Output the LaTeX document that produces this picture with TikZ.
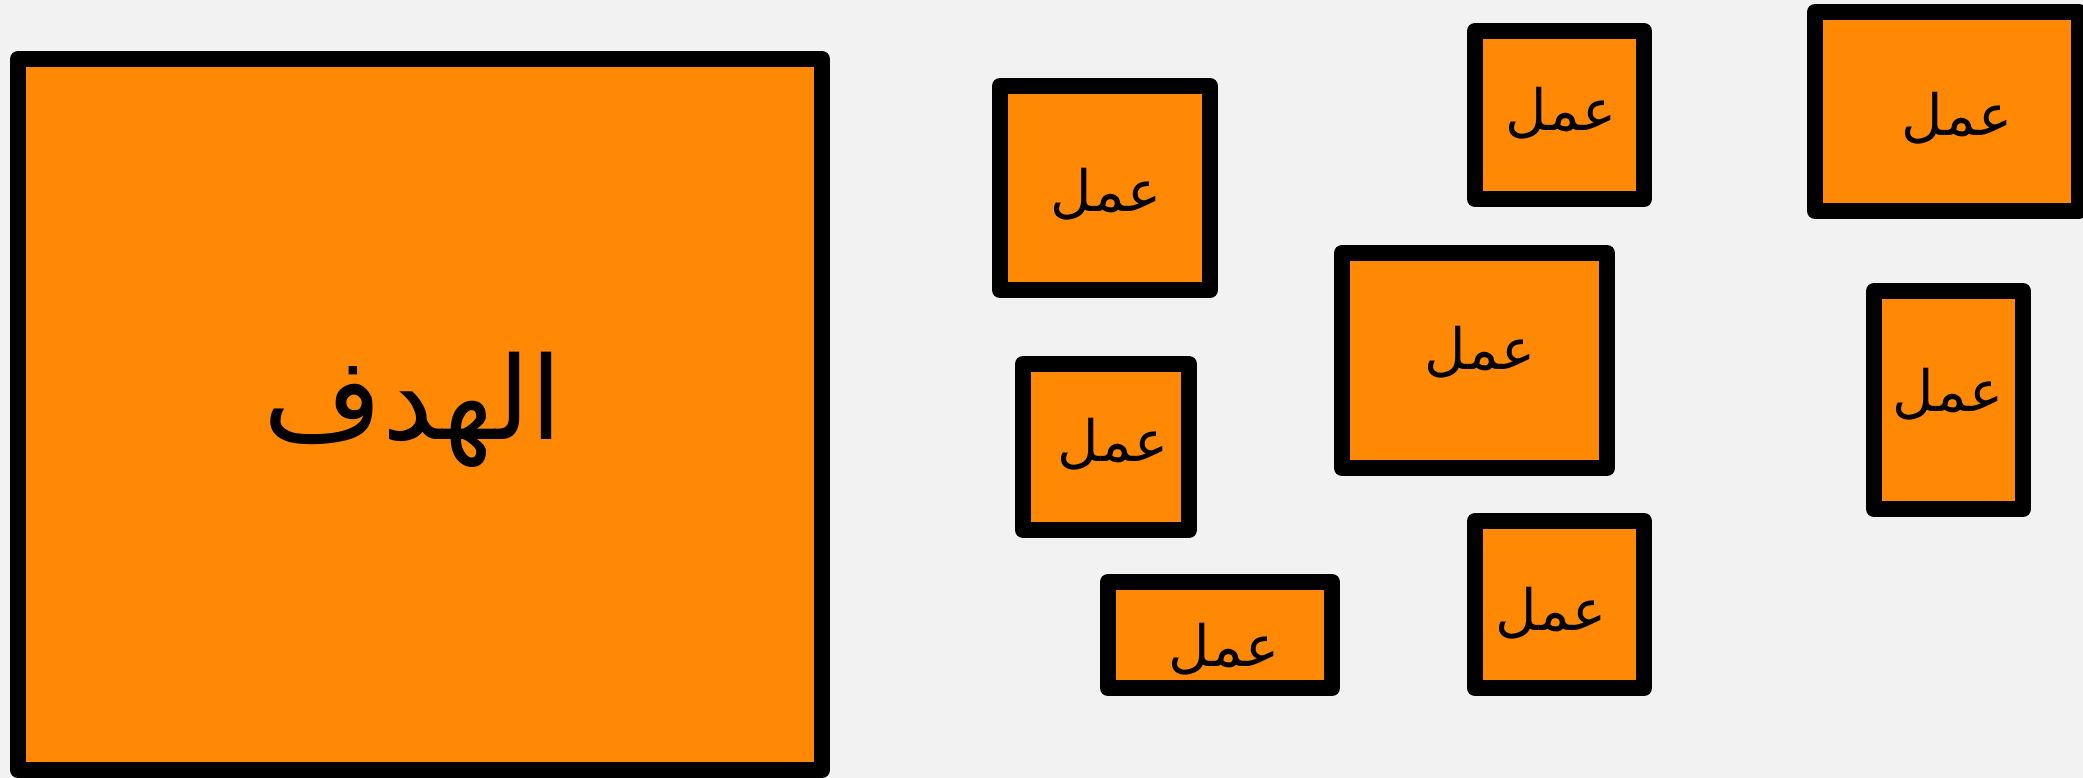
\documentclass[tikz,border=0pt]{standalone}
\usepackage{fontspec}
\TeXXeTstate=1
\newfontfamily\arabicfont[Script=Arabic]{DejaVu Sans}
\definecolor{boxorange}{HTML}{FF8804}
\definecolor{bgcol}{HTML}{F2F2F2}
\begin{document}
\begin{tikzpicture}[x=1pt,y=-1pt,
  box/.style={draw=black, fill=boxorange, line width=16pt, line join=round, rectangle, inner sep=0pt, outer sep=0pt},
  lbl/.style={inner sep=0pt, font=\arabicfont\fontsize{57}{68}\selectfont},
  biglbl/.style={inner sep=0pt, font=\arabicfont\fontsize{115}{130}\selectfont}]
\useasboundingbox (0,0) rectangle (2083,778);
\clip (0,0) rectangle (2083,778);
\fill[bgcol] (0,0) rectangle (2083,778);
% boxes (stroke centre sizes)
\node[box, minimum width=804pt, minimum height=711pt] (goal) at (420,414.5) {};
\node[box, minimum width=210pt, minimum height=204pt] (a) at (1105,188) {};
\node[box, minimum width=166pt, minimum height=166pt] (b) at (1106,447) {};
\node[box, minimum width=224pt, minimum height=106pt] (c) at (1220,635) {};
\node[box, minimum width=169pt, minimum height=168pt] (d) at (1559.5,115) {};
\node[box, minimum width=265pt, minimum height=215pt] (e) at (1474.5,360.5) {};
\node[box, minimum width=169pt, minimum height=167pt] (f) at (1559.5,604.5) {};
\node[box, minimum width=264pt, minimum height=199pt] (g) at (1947,111.5) {};
\node[box, minimum width=149pt, minimum height=218pt] (h) at (1948.5,400) {};
% labels
\node[biglbl] (tgoal) at (413,410) {\beginR الهدف\endR};
\node[lbl] (ta) at (1106,194) {\beginR عمل\endR};
\node[lbl] (tb) at (1113,444) {\beginR عمل\endR};
\node[lbl] (tc) at (1224,649) {\beginR عمل\endR};
\node[lbl] (td) at (1561,113) {\beginR عمل\endR};
\node[lbl] (te) at (1480,352) {\beginR عمل\endR};
\node[lbl] (tf) at (1551,613) {\beginR عمل\endR};
\node[lbl] (tg) at (1957,118) {\beginR عمل\endR};
\node[lbl] (th) at (1948,394) {\beginR عمل\endR};
\end{tikzpicture}
\end{document}
